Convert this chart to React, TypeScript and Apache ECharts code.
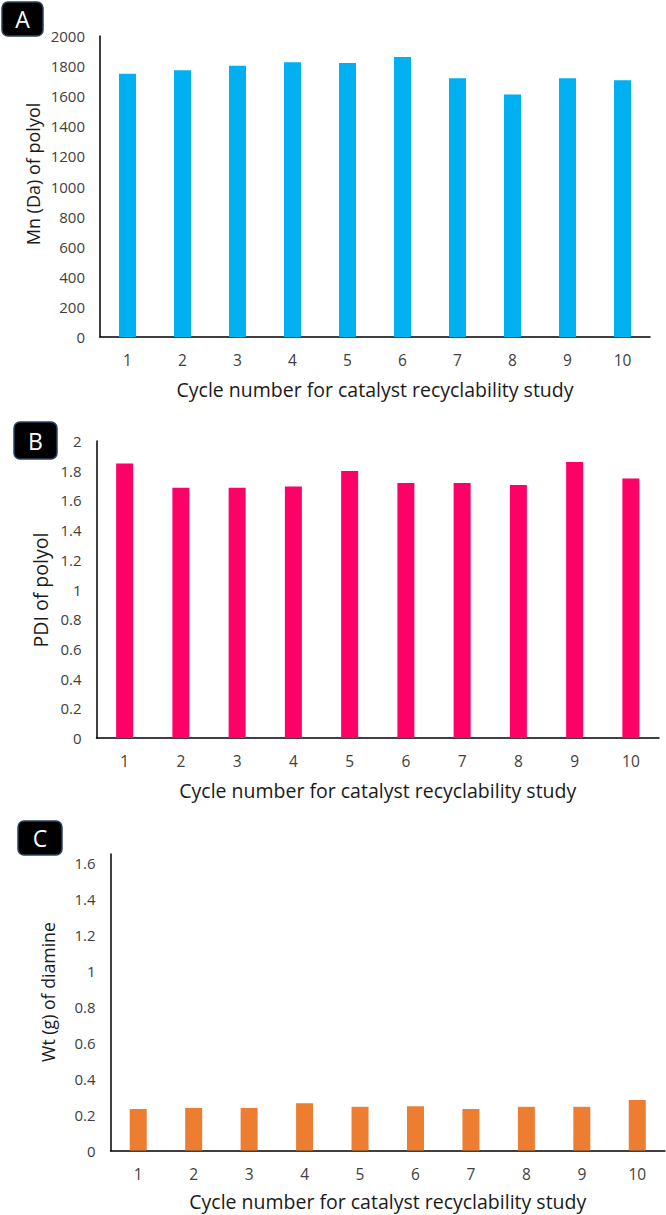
import React, { useEffect, useRef } from "react";
import * as echarts from "echarts";

// Recycling cycles of the catalyst
const cycles = ["1", "2", "3", "4", "5", "6", "7", "8", "9", "10"];

// Number-average molecular weight of the polyol per cycle (Da)
const mnValues = [1750, 1772, 1802, 1826, 1820, 1861, 1719, 1612, 1719, 1706];
// Polydispersity index of the polyol per cycle
const pdiValues = [1.848, 1.686, 1.686, 1.693, 1.798, 1.718, 1.718, 1.704, 1.859, 1.747];
// Recovered diamine weight per cycle (g)
const diamineValues = [0.231, 0.237, 0.237, 0.263, 0.243, 0.246, 0.231, 0.243, 0.243, 0.281];

// Value-axis ranges: [min, max, interval]
const mnAxis = [0, 2000, 200];
const pdiAxis = [0, 2, 0.2];
const diamineAxis = [0, 1.65, 0.2];

const panelLetters = ["A", "B", "C"];
const yTitles = ["Mn (Da) of polyol", "PDI of polyol", "Wt (g) of diamine"];
const xTitle = "Cycle number for catalyst recyclability study";

const FONT = "'Open Sans', 'Noto Sans', sans-serif";
const LABEL_COLOR = "#404040";
const TITLE_COLOR = "#1a1a1a";

const panels = [
  {
    grid: { left: 100, top: 36, width: 550, height: 301 },
    values: mnValues,
    axis: mnAxis,
    color: "#00B0F0",
    box: { x: 2, y: 2, w: 41, h: 34 },
    yTitle: { x: 33, y: 174, size: 18 },
    xTitle: { y: 389 },
  },
  {
    grid: { left: 96.5, top: 441, width: 562.5, height: 297 },
    values: pdiValues,
    axis: pdiAxis,
    color: "#FF0066",
    box: { x: 14, y: 422, w: 43, h: 37 },
    yTitle: { x: 40, y: 590, size: 19.5 },
    xTitle: { y: 790 },
  },
  {
    grid: { left: 110.5, top: 854, width: 554.5, height: 296.5 },
    values: diamineValues,
    axis: diamineAxis,
    color: "#ED7D31",
    box: { x: 18, y: 821, w: 44, h: 34 },
    yTitle: { x: 48, y: 992, size: 17.7 },
    xTitle: { y: 1201 },
  },
];

const tickText = (v: number) => String(Math.round(v * 100) / 100);

export default function App() {
  const ref = useRef<HTMLDivElement>(null);

  useEffect(() => {
    if (!ref.current) return;
    const chart = echarts.init(ref.current, null, { renderer: "svg" });

    const grids = panels.map((p) => ({ ...p.grid, containLabel: false }));

    const xAxes = panels.map((_, i) => ({
      type: "category",
      gridIndex: i,
      data: cycles,
      axisLine: { show: true, lineStyle: { color: "#000", width: 1.5 } },
      axisTick: { show: false },
      axisLabel: { fontFamily: FONT, fontSize: 15.5, color: LABEL_COLOR, margin: 15 },
      splitLine: { show: false },
    }));

    const yAxes = panels.map((p, i) => ({
      type: "value",
      gridIndex: i,
      min: p.axis[0],
      max: p.axis[1],
      interval: p.axis[2],
      axisLine: { show: true, lineStyle: { color: "#000", width: 1.5 } },
      axisTick: { show: false },
      splitLine: { show: false },
      axisLabel: {
        fontFamily: FONT,
        fontSize: 15,
        color: LABEL_COLOR,
        margin: 15,
        showMaxLabel: i !== 2,
        formatter: tickText,
      },
    }));

    const series = panels.map((p, i) => ({
      type: "bar",
      xAxisIndex: i,
      yAxisIndex: i,
      data: p.values,
      barWidth: 17,
      itemStyle: { color: p.color },
    }));

    const graphic: any[] = [];
    panels.forEach((p, i) => {
      graphic.push({
        type: "rect",
        shape: { x: p.box.x, y: p.box.y, width: p.box.w, height: p.box.h, r: 6 },
        style: { fill: "#000", stroke: "#2b4160", lineWidth: 1.5 },
      });
      graphic.push({
        type: "text",
        x: p.box.x + p.box.w / 2,
        y: p.box.y + p.box.h / 2,
        style: {
          text: panelLetters[i],
          fill: "#fff",
          font: `23px ${FONT}`,
          align: "center",
          verticalAlign: "middle",
        },
      });
      graphic.push({
        type: "text",
        x: p.yTitle.x,
        y: p.yTitle.y,
        rotation: Math.PI / 2,
        style: {
          text: yTitles[i],
          fill: TITLE_COLOR,
          font: `${p.yTitle.size}px ${FONT}`,
          align: "center",
          verticalAlign: "middle",
        },
      });
      graphic.push({
        type: "text",
        x: p.grid.left + p.grid.width / 2,
        y: p.xTitle.y,
        style: {
          text: xTitle,
          fill: TITLE_COLOR,
          font: `19.5px ${FONT}`,
          align: "center",
          verticalAlign: "middle",
        },
      });
    });

    chart.setOption({
      animation: false,
      backgroundColor: "#fff",
      grid: grids,
      xAxis: xAxes,
      yAxis: yAxes,
      series,
      graphic,
    });

    return () => chart.dispose();
  }, []);

  return (
    <div
      ref={ref}
      style={{ position: "absolute", left: 0, top: 0, width: 666, height: 1215 }}
    />
  );
}
